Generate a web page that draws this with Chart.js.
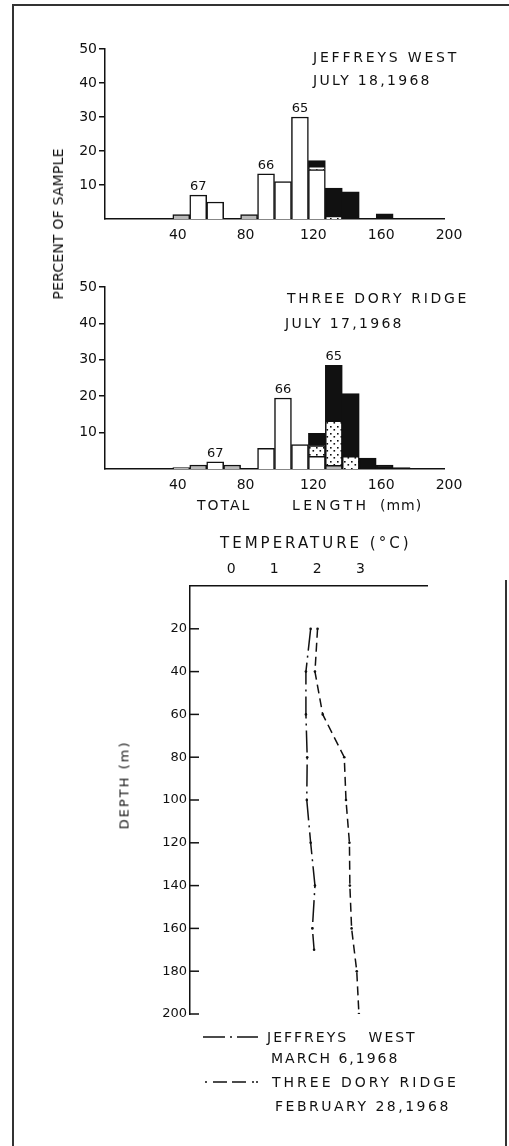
<!DOCTYPE html>
<html>
<head>
<meta charset="utf-8">
<script src="https://cdn.jsdelivr.net/npm/chart.js@4.4.1/dist/chart.umd.min.js"></script>
<style>
  body { margin: 0; background: #fff; }
  #page { position: relative; width: 509px; height: 1146px; overflow: hidden; background: #fff;
          font-family: "DejaVu Sans", sans-serif; color: #111; }
  canvas { position: absolute; left: 0; }
  .t { position: absolute; white-space: nowrap; font-size: 14px; letter-spacing: 2px; line-height: 1;
       transform: translateY(-50%); }
  .v { position: absolute; white-space: nowrap; font-size: 14px; letter-spacing: 2px; line-height: 1;
       transform: translate(-50%, -50%) rotate(-90deg); }
  .frame { position: absolute; background: #333; }
</style>
</head>
<body>
<div id="page">
  <div class="frame" style="left:13px;top:4px;width:496px;height:1.5px"></div>
  <div class="frame" style="left:12px;top:4px;width:1.5px;height:1142px"></div>
  <div class="frame" style="left:505px;top:580px;width:1.5px;height:566px"></div>

  <canvas id="jeffreys" style="top:0" width="509" height="250"></canvas>
  <canvas id="threedory" style="top:250px" width="509" height="250"></canvas>
  <canvas id="profile" style="top:520px" width="509" height="520"></canvas>

  <div class="t" style="left:313px;top:57px;letter-spacing:2.8px">JEFFREYS WEST</div>
  <div class="t" style="left:313px;top:80px;letter-spacing:2.3px">JULY 18,1968</div>
  <div class="t" style="left:287px;top:298px;letter-spacing:2.7px">THREE DORY RIDGE</div>
  <div class="t" style="left:285px;top:323px;letter-spacing:2.3px">JULY 17,1968</div>
  <div class="v" style="left:58px;top:224px;letter-spacing:0.2px">PERCENT OF SAMPLE</div>
  <div class="t" style="left:197px;top:505px">TOTAL</div>
  <div class="t" style="left:292px;top:505px;letter-spacing:3.5px">LENGTH</div>
  <div class="t" style="left:380px;top:505px;letter-spacing:1px">(mm)</div>
  <div class="t" style="left:220px;top:543px;font-size:15px;letter-spacing:3px">TEMPERATURE (°C)</div>
  <div class="v" style="left:124px;top:785px;font-size:13px">DEPTH (m)</div>

  <svg style="position:absolute;left:200px;top:1030px" width="64" height="60">
    <line x1="3" y1="7" x2="58" y2="7" stroke="#111" stroke-width="1.5" stroke-dasharray="22,5,2,5"></line>
    <line x1="5" y1="52" x2="58" y2="52" stroke="#111" stroke-width="1.5" stroke-dasharray="2,6,14,5,14,6,2"></line>
  </svg>
  <div class="t" style="left:267px;top:1037px;word-spacing:14px">JEFFREYS WEST</div>
  <div class="t" style="left:271px;top:1058px">MARCH 6,1968</div>
  <div class="t" style="left:272px;top:1082px;letter-spacing:3px">THREE DORY RIDGE</div>
  <div class="t" style="left:275px;top:1106px;letter-spacing:2.5px">FEBRUARY 28,1968</div>
</div>

<script>
// length classes (mm), bin centres of 10 mm bins
var bins = [45, 55, 65, 75, 85, 95, 105, 115, 125, 135, 145, 155, 165, 175];

// Jeffreys West, July 18 1968 (percent of sample)
var jwOpen    = [1.3, 7, 5, null, 1.3, 13.3, 11, 30, 14.5, null, null, null, null, null];
var jwStipple = [null, null, null, null, null, null, null, null, 1, 0.8, null, null, null, null];
var jwSolid   = [null, null, null, null, null, null, null, null, 1.7, 8.3, 8, null, 1.5, null];
var jwClassBins = [55, 95, 115];

// Three Dory Ridge, July 17 1968
var tdOpen    = [0.4, 1.1, 2.0, 1.1, null, 5.7, 19.5, 6.7, 3.5, 1.0, null, null, null, null];
var tdStipple = [null, null, null, null, null, null, null, null, 2.9, 12.2, 3.5, null, null, null];
var tdSolid   = [null, null, null, null, null, null, null, null, 3.4, 15.3, 17.2, 3.0, 1.1, 0.4];
var tdClassBins = [65, 105, 135];

var yearClasses = ['67', '66', '65'];
var lengthTicks = [40, 80, 120, 160, 200];
var percentTicks = [10, 20, 30, 40, 50];

// temperature profiles
var jwDepth = [20, 40, 60, 80, 100, 120, 140, 160, 170];
var jwTemp  = [1.80, 1.69, 1.69, 1.72, 1.71, 1.80, 1.90, 1.84, 1.88];
var tdDepth = [20, 40, 60, 80, 100, 120, 140, 160, 180, 200];
var tdTemp  = [1.96, 1.90, 2.08, 2.58, 2.62, 2.70, 2.71, 2.75, 2.87, 2.92];
var tempTicks = [0, 1, 2, 3];
var depthTicks = [20, 40, 60, 80, 100, 120, 140, 160, 180, 200];

Chart.defaults.font.family = "'DejaVu Sans', sans-serif";
Chart.defaults.color = '#111';
Chart.defaults.animation = false;

var ink = '#111';

function stipple() {
  var c = document.createElement('canvas');
  c.width = 7; c.height = 7;
  var g = c.getContext('2d');
  g.fillStyle = '#fff';
  g.fillRect(0, 0, 7, 7);
  g.fillStyle = ink;
  g.fillRect(1, 1, 1.6, 1.6);
  g.fillRect(4.5, 4, 1.6, 1.6);
  return g.createPattern(c, 'repeat');
}

function pts(xs, ys) {
  var out = [];
  for (var i = 0; i < xs.length; i++) out.push({ x: xs[i], y: ys[i] });
  return out;
}

var classLabels = {
  id: 'classLabels',
  afterDatasetsDraw: function (chart, args, opts) {
    var ctx = chart.ctx;
    ctx.save();
    ctx.font = "13px 'DejaVu Sans'";
    ctx.fillStyle = ink;
    ctx.textAlign = 'center';
    ctx.textBaseline = 'bottom';
    opts.bins.forEach(function (b, k) {
      var i = bins.indexOf(b);
      var total = 0;
      chart.data.datasets.forEach(function (ds) { total += ds.data[i].y || 0; });
      ctx.fillText(opts.names[k], chart.scales.x.getPixelForValue(b), chart.scales.y.getPixelForValue(total) - 2);
    });
    ctx.restore();
  }
};

function histogram(id, open, dots, solid, classBins, top) {
  var pattern = stipple();
  var common = { borderColor: ink, borderWidth: 1.5, barPercentage: 1, categoryPercentage: 1 };
  new Chart(document.getElementById(id), {
    type: 'bar',
    data: {
      datasets: [
        Object.assign({ data: pts(bins, open),
          backgroundColor: function (c) { return c.raw && c.raw.y <= 1.3 ? '#b8b8b8' : '#fff'; } }, common),
        Object.assign({ data: pts(bins, dots), backgroundColor: pattern }, common),
        Object.assign({ data: pts(bins, solid), backgroundColor: ink }, common)
      ]
    },
    options: {
      responsive: false,
      layout: { padding: { left: 0, right: 65, top: top, bottom: 0 } },
      plugins: {
        legend: { display: false },
        tooltip: { enabled: false },
        classLabels: { bins: classBins, names: yearClasses }
      },
      scales: {
        x: {
          type: 'linear', min: 0, max: 200, stacked: true, offset: false,
          afterFit: function (s) { s.height = 31; },
          afterBuildTicks: function (s) { s.ticks = lengthTicks.map(function (v) { return { value: v }; }); },
          grid: { display: false, drawTicks: false, offset: false },
          border: { color: ink, width: 1.5 },
          ticks: { padding: 8, labelOffset: 5, font: { size: 14 }, color: ink }
        },
        y: {
          min: 0, max: 50, stacked: true,
          afterFit: function (s) { s.width = 105; },
          afterBuildTicks: function (s) { s.ticks = percentTicks.map(function (v) { return { value: v }; }); },
          grid: { drawOnChartArea: false, drawTicks: true, tickLength: 6, color: ink, lineWidth: 1.5 },
          border: { color: ink, width: 1.5 },
          ticks: { padding: 2, font: { size: 14 }, color: ink }
        }
      }
    },
    plugins: [classLabels]
  });
}

histogram('jeffreys', jwOpen, jwStipple, jwSolid, jwClassBins, 49);
histogram('threedory', tdOpen, tdStipple, tdSolid, tdClassBins, 37);

var innerTicks = {
  id: 'innerTicks',
  afterDraw: function (chart) {
    var y = chart.scales.y, left = chart.chartArea.left, ctx = chart.ctx;
    ctx.save();
    ctx.strokeStyle = ink;
    ctx.lineWidth = 1.5;
    y.ticks.forEach(function (t) {
      var py = y.getPixelForValue(t.value);
      ctx.beginPath();
      ctx.moveTo(left, py);
      ctx.lineTo(left + 9, py);
      ctx.stroke();
    });
    ctx.restore();
  }
};

new Chart(document.getElementById('profile'), {
  type: 'line',
  data: {
    datasets: [
      { label: 'JEFFREYS WEST  MARCH 6,1968', data: pts(jwTemp, jwDepth), borderColor: ink, borderWidth: 1.5,
        borderDash: [22, 5, 2, 5], pointRadius: 1.3, pointBackgroundColor: ink, pointBorderWidth: 0, tension: 0 },
      { label: 'THREE DORY RIDGE  FEBRUARY 28,1968', data: pts(tdTemp, tdDepth), borderColor: ink, borderWidth: 1.5,
        borderDash: [9, 5], pointRadius: 1.3, pointBackgroundColor: ink, pointBorderWidth: 0, tension: 0 }
    ]
  },
  options: {
    responsive: false,
    layout: { padding: { left: 0, right: 82, top: 36, bottom: 26 } },
    plugins: { legend: { display: false }, tooltip: { enabled: false } },
    scales: {
      x: {
        type: 'linear', position: 'top', min: -1, max: 4.5,
        afterFit: function (s) { s.height = 30; },
        afterBuildTicks: function (s) { s.ticks = tempTicks.map(function (v) { return { value: v }; }); },
        grid: { display: false, drawTicks: false },
        border: { color: ink, width: 1.5 },
        ticks: { padding: 8, labelOffset: -2, font: { size: 14 }, color: ink }
      },
      y: {
        type: 'linear', reverse: true, min: 0, max: 200,
        afterFit: function (s) { s.width = 190; },
        afterBuildTicks: function (s) { s.ticks = depthTicks.map(function (v) { return { value: v }; }); },
        grid: { display: false, drawTicks: false },
        border: { color: ink, width: 1.5 },
        ticks: { padding: 3, font: { size: 13 }, color: ink }
      }
    }
  },
  plugins: [innerTicks]
});
</script>
</body>
</html>
